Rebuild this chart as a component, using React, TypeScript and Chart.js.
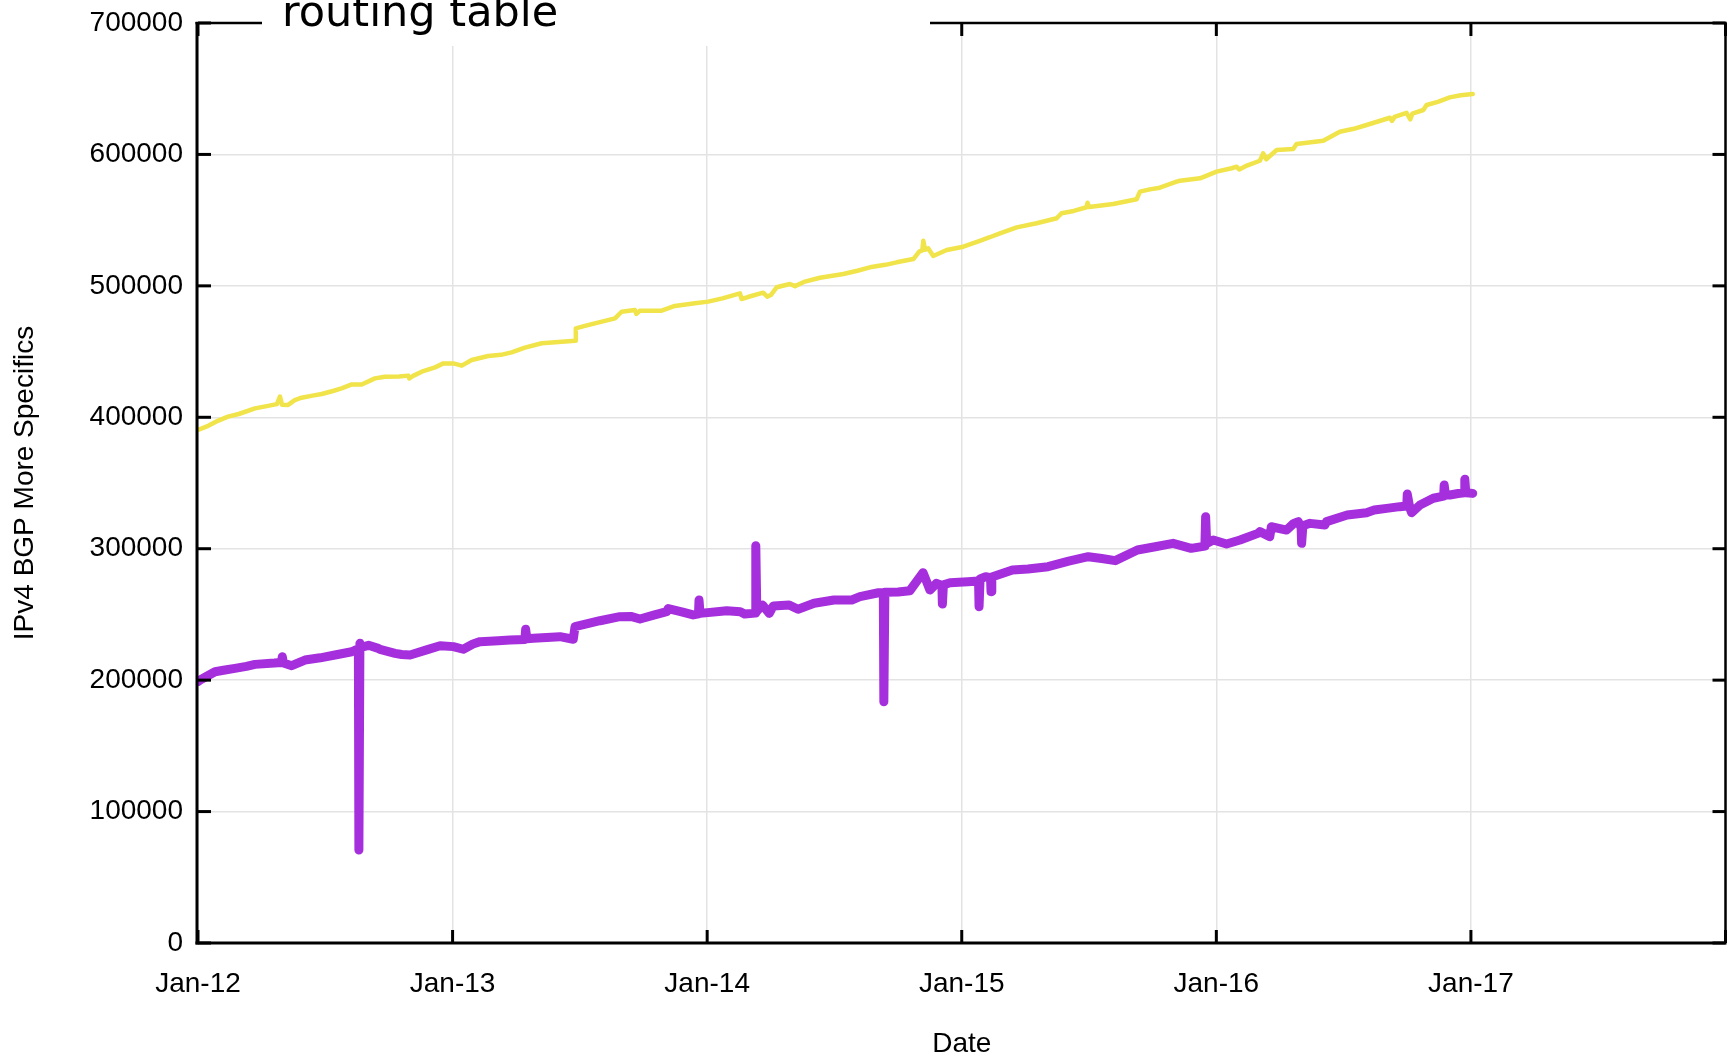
import React, { useEffect, useRef } from 'react';
import { Chart, registerables } from 'chart.js';

Chart.register(...registerables);

const xTickLabels = ['Jan-12', 'Jan-13', 'Jan-14', 'Jan-15', 'Jan-16', 'Jan-17', ''];
const xAxisTitle = 'Date';
const yAxisTitle = 'IPv4 BGP More Specifics';
const chartTitle = 'routing table';

// Yellow series: total routing table (decimal year, prefixes)
const routingYears = [
  2012.000, 2012.040, 2012.080, 2012.118, 2012.160, 2012.224, 2012.270, 2012.310, 2012.322, 2012.330,
  2012.354, 2012.380, 2012.407, 2012.450, 2012.486, 2012.530, 2012.564, 2012.604, 2012.643, 2012.695,
  2012.734, 2012.790, 2012.826, 2012.830, 2012.845, 2012.879, 2012.931, 2012.964, 2013.003, 2013.036,
  2013.075, 2013.140, 2013.190, 2013.232, 2013.284, 2013.350, 2013.429, 2013.481, 2013.484, 2013.520,
  2013.559, 2013.638, 2013.664, 2013.716, 2013.722, 2013.735, 2013.821, 2013.873, 2013.952, 2014.004,
  2014.060, 2014.129, 2014.135, 2014.160, 2014.220, 2014.236, 2014.250, 2014.273, 2014.325, 2014.345,
  2014.380, 2014.443, 2014.535, 2014.590, 2014.639, 2014.700, 2014.744, 2014.810, 2014.833, 2014.845,
  2014.849, 2014.856, 2014.868, 2014.888, 2014.941, 2015.006, 2015.071, 2015.110, 2015.150, 2015.216,
  2015.294, 2015.373, 2015.392, 2015.440, 2015.490, 2015.494, 2015.500, 2015.595, 2015.687, 2015.700,
  2015.739, 2015.778, 2015.844, 2015.857, 2015.936, 2016.001, 2016.060, 2016.080, 2016.090, 2016.120,
  2016.171, 2016.184, 2016.196, 2016.237, 2016.302, 2016.315, 2016.420, 2016.485, 2016.540, 2016.590,
  2016.682, 2016.690, 2016.700, 2016.747, 2016.762, 2016.770, 2016.813, 2016.826, 2016.870, 2016.917,
  2016.960, 2017.007,
];
const routingValues = [
  390300, 393500, 397500, 400500, 402500, 406800, 408500, 410000, 415700, 409500,
  409400, 413000, 414900, 416500, 417700, 420000, 422000, 425000, 425000, 429600,
  430900, 431000, 431700, 429500, 431500, 434700, 438000, 441000, 441000, 439300,
  443600, 446600, 447500, 449400, 453000, 456300, 457500, 458300, 467700, 469500,
  471500, 475300, 480300, 481600, 478600, 481000, 481100, 484700, 486700, 488000,
  490500, 494300, 490000, 491500, 494800, 491800, 493000, 498900, 501400, 499800,
  503000, 506200, 509000, 511500, 514100, 516000, 517900, 520400, 526000, 527000,
  534300, 527500, 528600, 522700, 527300, 529800, 534300, 537000, 540000, 544500,
  547600, 551400, 555200, 557000, 559800, 563300, 560000, 562300, 565900, 571700,
  573400, 574700, 579300, 580000, 581800, 586900, 589500, 590700, 588500, 591500,
  595200, 600800, 596300, 603400, 604100, 607900, 610400, 617300, 619500, 622400,
  627900, 625500, 628500, 631700, 626700, 631000, 633800, 637600, 640000, 643400,
  645000, 646000,
];

// Purple series: IPv4 BGP more specifics (decimal year, prefixes)
const moreSpecificsYears = [
  2012.000, 2012.008, 2012.040, 2012.067, 2012.100, 2012.145, 2012.190, 2012.224, 2012.300, 2012.328,
  2012.331, 2012.336, 2012.368, 2012.420, 2012.480, 2012.538, 2012.604, 2012.620, 2012.630, 2012.632,
  2012.636, 2012.640, 2012.670, 2012.708, 2012.715, 2012.774, 2012.800, 2012.833, 2012.898, 2012.951,
  2013.003, 2013.042, 2013.080, 2013.108, 2013.180, 2013.225, 2013.284, 2013.287, 2013.292, 2013.317,
  2013.422, 2013.474, 2013.481, 2013.530, 2013.579, 2013.657, 2013.700, 2013.736, 2013.790, 2013.841,
  2013.847, 2013.900, 2013.945, 2013.966, 2013.968, 2013.972, 2014.077, 2014.130, 2014.147, 2014.189,
  2014.191, 2014.195, 2014.217, 2014.244, 2014.260, 2014.322, 2014.357, 2014.420, 2014.498, 2014.568,
  2014.600, 2014.673, 2014.692, 2014.694, 2014.698, 2014.750, 2014.796, 2014.848, 2014.875, 2014.901,
  2014.922, 2014.924, 2014.928, 2014.954, 2015.024, 2015.066, 2015.068, 2015.072, 2015.094, 2015.113,
  2015.115, 2015.118, 2015.199, 2015.260, 2015.339, 2015.420, 2015.497, 2015.550, 2015.603, 2015.690,
  2015.760, 2015.830, 2015.901, 2015.955, 2015.958, 2015.962, 2015.988, 2016.040, 2016.093, 2016.163,
  2016.171, 2016.210, 2016.216, 2016.276, 2016.304, 2016.322, 2016.333, 2016.335, 2016.340, 2016.368,
  2016.426, 2016.433, 2016.514, 2016.590, 2016.620, 2016.669, 2016.721, 2016.748, 2016.750, 2016.760,
  2016.767, 2016.800, 2016.852, 2016.893, 2016.895, 2016.900, 2016.917, 2016.950, 2016.975, 2016.976,
  2016.980, 2017.007,
];
const moreSpecificsValues = [
  199000, 200100, 203500, 206400, 207500, 209000, 210500, 212000, 213000, 213500,
  217800, 213000, 211000, 215300, 217000, 219100, 221600, 223000, 223500, 70700,
  228000, 225000, 226500, 224200, 223400, 220400, 219500, 219100, 223000, 226200,
  225500, 223500, 227500, 229300, 230000, 230500, 231000, 238700, 231500, 231800,
  233100, 231100, 240700, 243000, 245200, 248300, 248500, 246500, 249500, 252100,
  254500, 252000, 249600, 250500, 261000, 250800, 252800, 252000, 250300, 251000,
  302300, 252500, 257200, 250800, 256500, 257200, 253900, 258500, 261000, 261000,
  263500, 266500, 266500, 183600, 266800, 267000, 268000, 281800, 268600, 273700,
  272000, 257900, 272500, 274100, 274900, 275500, 255900, 277000, 278700, 278000,
  267300, 278500, 283800, 284500, 286300, 290500, 293900, 292500, 290900, 299000,
  301500, 304100, 300300, 302000, 324400, 304000, 306600, 303600, 306600, 311700,
  313000, 309200, 316700, 314200, 319300, 320600, 316000, 304100, 317500, 319300,
  318000, 320600, 325600, 327400, 329400, 330700, 332000, 332500, 341600, 331000,
  327400, 333300, 338400, 340000, 348500, 341000, 340900, 342000, 342500, 352800,
  342600, 342100,
];

const FONT = '"Liberation Sans", Arial, Helvetica, sans-serif';

const framePlugin = {
  id: 'gnuplotFrame',
  afterDraw(chart: any) {
    const { ctx, chartArea: a, scales } = chart;
    const xs = scales.x;
    const ys = scales.y;
    const seg = (x1: number, y1: number, x2: number, y2: number) => {
      ctx.beginPath();
      ctx.moveTo(x1, y1);
      ctx.lineTo(x2, y2);
      ctx.stroke();
    };
    ctx.save();
    ctx.strokeStyle = '#000';
    ctx.lineCap = 'butt';
    ctx.lineWidth = 3;
    const tick = 13;
    xs.ticks.forEach((t: any) => {
      const px = xs.getPixelForValue(t.value);
      seg(px, a.bottom, px, a.bottom - tick);
      seg(px, a.top, px, a.top + tick);
    });
    ys.ticks.forEach((t: any) => {
      const py = ys.getPixelForValue(t.value);
      seg(a.left, py, a.left + tick, py);
      seg(a.right, py, a.right - tick, py);
    });
    // frame
    ctx.lineWidth = 3;
    seg(a.left - 1, a.top - 1, a.left - 1, a.bottom + 1.5);
    seg(a.left - 2.5, a.bottom, a.right + 1, a.bottom);
    ctx.lineWidth = 2.5;
    seg(a.right, a.top, a.right, a.bottom);
    seg(a.left - 2.5, a.top, a.right + 1.25, a.top);
    // title box covering the top frame
    ctx.fillStyle = '#fff';
    ctx.fillRect(262, 0, 668, 46);
    ctx.fillStyle = '#000';
    ctx.font = '43px "DejaVu Sans", sans-serif';
    ctx.textBaseline = 'alphabetic';
    ctx.textAlign = 'left';
    ctx.fillText(chartTitle, 282, 26);
    ctx.restore();
  },
};

const zeroPadding = (s: any) => {
  s.paddingLeft = 0;
  s.paddingRight = 0;
  s.paddingTop = 0;
  s.paddingBottom = 0;
};

export default function App() {
  const canvasRef = useRef<HTMLCanvasElement | null>(null);

  useEffect(() => {
    document.body.style.margin = '0';
    const canvas = canvasRef.current;
    if (!canvas) return;
    const routingData = routingYears.map((x, i) => ({ x, y: routingValues[i] }));
    const specificsData = moreSpecificsYears.map((x, i) => ({ x, y: moreSpecificsValues[i] }));

    const chart = new Chart(canvas, {
      type: 'line',
      data: {
        datasets: [
          {
            label: chartTitle,
            data: routingData,
            borderColor: '#f0e44a',
            backgroundColor: '#f0e44a',
            borderWidth: 4.5,
            pointRadius: 0,
            tension: 0,
            borderCapStyle: 'round',
            borderJoinStyle: 'round',
          },
          {
            label: yAxisTitle,
            data: specificsData,
            borderColor: '#a52fdc',
            backgroundColor: '#a52fdc',
            borderWidth: 9,
            pointRadius: 0,
            tension: 0,
            borderCapStyle: 'round',
            borderJoinStyle: 'round',
          },
        ],
      },
      options: {
        responsive: false,
        animation: false,
        devicePixelRatio: 1,
        layout: { padding: { top: 23, right: 9.5, left: 0, bottom: 0 } },
        plugins: {
          legend: { display: false },
          tooltip: { enabled: false },
          title: { display: false },
        },
        scales: {
          x: {
            type: 'linear',
            min: 2012,
            max: 2018,
            afterFit: (s: any) => {
              s.height = 115;
              zeroPadding(s);
            },
            ticks: {
              stepSize: 1,
              autoSkip: false,
              maxRotation: 0,
              padding: 24,
              color: '#000',
              font: { family: FONT, size: 28 },
              callback: (_v: any, i: number) => xTickLabels[i],
            },
            grid: { color: '#e3e3e3', lineWidth: 1.5, drawTicks: false },
            border: { display: false },
            title: {
              display: true,
              text: xAxisTitle,
              color: '#000',
              font: { family: FONT, size: 28, lineHeight: 1 },
              padding: { top: 0, bottom: 0 },
            },
          },
          y: {
            type: 'linear',
            min: 0,
            max: 700000,
            afterFit: (s: any) => {
              s.width = 198;
              zeroPadding(s);
            },
            ticks: {
              stepSize: 100000,
              padding: 15,
              color: '#000',
              font: { family: FONT, size: 28 },
              callback: (v: any) => String(v),
            },
            grid: { color: '#e3e3e3', lineWidth: 1.5, drawTicks: false },
            border: { display: false },
            title: {
              display: true,
              text: yAxisTitle,
              color: '#000',
              font: { family: FONT, size: 28, lineHeight: 1 },
              padding: { top: 11.5, bottom: 0 },
            },
          },
        },
      },
      plugins: [framePlugin],
    } as any);
    return () => chart.destroy();
  }, []);

  return (
    <div style={{ width: 1735, height: 1058 }}>
      <canvas ref={canvasRef} width={1735} height={1058} style={{ display: 'block', width: 1735, height: 1058 }} />
    </div>
  );
}
